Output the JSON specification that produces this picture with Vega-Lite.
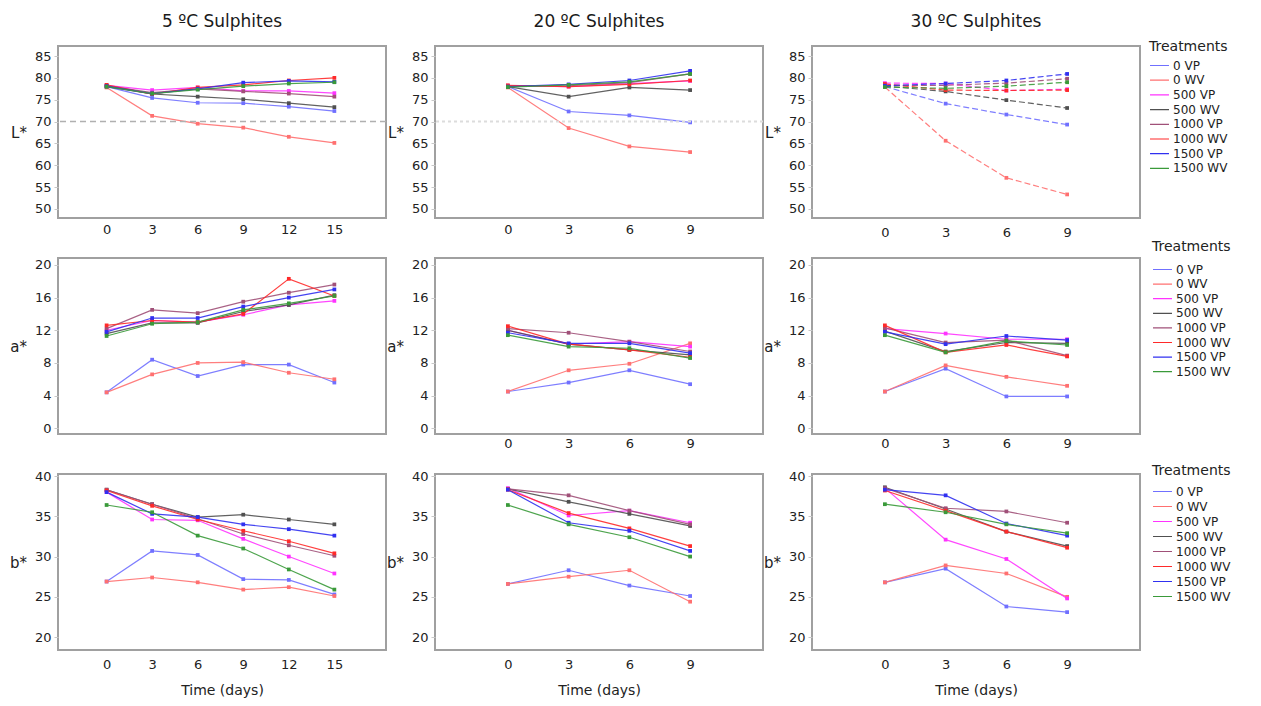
{
"$schema": "https://vega.github.io/schema/vega-lite/v6.json",
"padding": {"left": 8, "top": 12, "right": 5, "bottom": 5},
"background": "white",
"datasets": {"d": [
{"c":5,"m":"L","s":"0 VP","t":0,"v":78.0},{"c":5,"m":"L","s":"0 VP","t":3,"v":75.4},{"c":5,"m":"L","s":"0 VP","t":6,"v":74.3},{"c":5,"m":"L","s":"0 VP","t":9,"v":74.2},{"c":5,"m":"L","s":"0 VP","t":12,"v":73.4},{"c":5,"m":"L","s":"0 VP","t":15,"v":72.4},
{"c":5,"m":"L","s":"0 WV","t":0,"v":77.8},{"c":5,"m":"L","s":"0 WV","t":3,"v":71.3},{"c":5,"m":"L","s":"0 WV","t":6,"v":69.5},{"c":5,"m":"L","s":"0 WV","t":9,"v":68.6},{"c":5,"m":"L","s":"0 WV","t":12,"v":66.5},{"c":5,"m":"L","s":"0 WV","t":15,"v":65.1},
{"c":5,"m":"L","s":"500 VP","t":0,"v":78.3},{"c":5,"m":"L","s":"500 VP","t":3,"v":77.2},{"c":5,"m":"L","s":"500 VP","t":6,"v":77.8},{"c":5,"m":"L","s":"500 VP","t":9,"v":77.0},{"c":5,"m":"L","s":"500 VP","t":12,"v":77.0},{"c":5,"m":"L","s":"500 VP","t":15,"v":76.5},
{"c":5,"m":"L","s":"500 WV","t":0,"v":78.0},{"c":5,"m":"L","s":"500 WV","t":3,"v":76.3},{"c":5,"m":"L","s":"500 WV","t":6,"v":75.7},{"c":5,"m":"L","s":"500 WV","t":9,"v":75.1},{"c":5,"m":"L","s":"500 WV","t":12,"v":74.2},{"c":5,"m":"L","s":"500 WV","t":15,"v":73.3},
{"c":5,"m":"L","s":"1000 VP","t":0,"v":78.2},{"c":5,"m":"L","s":"1000 VP","t":3,"v":76.6},{"c":5,"m":"L","s":"1000 VP","t":6,"v":77.5},{"c":5,"m":"L","s":"1000 VP","t":9,"v":76.9},{"c":5,"m":"L","s":"1000 VP","t":12,"v":76.4},{"c":5,"m":"L","s":"1000 VP","t":15,"v":75.7},
{"c":5,"m":"L","s":"1000 WV","t":0,"v":78.4},{"c":5,"m":"L","s":"1000 WV","t":3,"v":76.3},{"c":5,"m":"L","s":"1000 WV","t":6,"v":77.8},{"c":5,"m":"L","s":"1000 WV","t":9,"v":78.4},{"c":5,"m":"L","s":"1000 WV","t":12,"v":79.4},{"c":5,"m":"L","s":"1000 WV","t":15,"v":80.0},
{"c":5,"m":"L","s":"1500 VP","t":0,"v":78.1},{"c":5,"m":"L","s":"1500 VP","t":3,"v":76.4},{"c":5,"m":"L","s":"1500 VP","t":6,"v":77.5},{"c":5,"m":"L","s":"1500 VP","t":9,"v":78.9},{"c":5,"m":"L","s":"1500 VP","t":12,"v":79.3},{"c":5,"m":"L","s":"1500 VP","t":15,"v":79.1},
{"c":5,"m":"L","s":"1500 WV","t":0,"v":78.0},{"c":5,"m":"L","s":"1500 WV","t":3,"v":76.4},{"c":5,"m":"L","s":"1500 WV","t":6,"v":77.3},{"c":5,"m":"L","s":"1500 WV","t":9,"v":78.1},{"c":5,"m":"L","s":"1500 WV","t":12,"v":78.7},{"c":5,"m":"L","s":"1500 WV","t":15,"v":79.0},

{"c":20,"m":"L","s":"0 VP","t":0,"v":78.0},{"c":20,"m":"L","s":"0 VP","t":3,"v":72.3},{"c":20,"m":"L","s":"0 VP","t":6,"v":71.4},{"c":20,"m":"L","s":"0 VP","t":9,"v":69.8},
{"c":20,"m":"L","s":"0 WV","t":0,"v":77.8},{"c":20,"m":"L","s":"0 WV","t":3,"v":68.5},{"c":20,"m":"L","s":"0 WV","t":6,"v":64.3},{"c":20,"m":"L","s":"0 WV","t":9,"v":63.0},
{"c":20,"m":"L","s":"500 VP","t":0,"v":78.2},{"c":20,"m":"L","s":"500 VP","t":3,"v":78.0},{"c":20,"m":"L","s":"500 VP","t":6,"v":78.7},{"c":20,"m":"L","s":"500 VP","t":9,"v":79.3},
{"c":20,"m":"L","s":"500 WV","t":0,"v":78.0},{"c":20,"m":"L","s":"500 WV","t":3,"v":75.7},{"c":20,"m":"L","s":"500 WV","t":6,"v":77.8},{"c":20,"m":"L","s":"500 WV","t":9,"v":77.2},
{"c":20,"m":"L","s":"1000 VP","t":0,"v":78.1},{"c":20,"m":"L","s":"1000 VP","t":3,"v":78.2},{"c":20,"m":"L","s":"1000 VP","t":6,"v":78.9},{"c":20,"m":"L","s":"1000 VP","t":9,"v":80.9},
{"c":20,"m":"L","s":"1000 WV","t":0,"v":78.3},{"c":20,"m":"L","s":"1000 WV","t":3,"v":78.0},{"c":20,"m":"L","s":"1000 WV","t":6,"v":78.5},{"c":20,"m":"L","s":"1000 WV","t":9,"v":79.4},
{"c":20,"m":"L","s":"1500 VP","t":0,"v":78.0},{"c":20,"m":"L","s":"1500 VP","t":3,"v":78.5},{"c":20,"m":"L","s":"1500 VP","t":6,"v":79.4},{"c":20,"m":"L","s":"1500 VP","t":9,"v":81.6},
{"c":20,"m":"L","s":"1500 WV","t":0,"v":77.9},{"c":20,"m":"L","s":"1500 WV","t":3,"v":78.4},{"c":20,"m":"L","s":"1500 WV","t":6,"v":79.1},{"c":20,"m":"L","s":"1500 WV","t":9,"v":80.9},

{"c":30,"m":"L","s":"0 VP","t":0,"v":78.0},{"c":30,"m":"L","s":"0 VP","t":3,"v":74.1},{"c":30,"m":"L","s":"0 VP","t":6,"v":71.6},{"c":30,"m":"L","s":"0 VP","t":9,"v":69.3},
{"c":30,"m":"L","s":"0 WV","t":0,"v":77.9},{"c":30,"m":"L","s":"0 WV","t":3,"v":65.6},{"c":30,"m":"L","s":"0 WV","t":6,"v":57.1},{"c":30,"m":"L","s":"0 WV","t":9,"v":53.3},
{"c":30,"m":"L","s":"500 VP","t":0,"v":78.8},{"c":30,"m":"L","s":"500 VP","t":3,"v":78.7},{"c":30,"m":"L","s":"500 VP","t":6,"v":77.1},{"c":30,"m":"L","s":"500 VP","t":9,"v":77.4},
{"c":30,"m":"L","s":"500 WV","t":0,"v":78.1},{"c":30,"m":"L","s":"500 WV","t":3,"v":76.9},{"c":30,"m":"L","s":"500 WV","t":6,"v":74.9},{"c":30,"m":"L","s":"500 WV","t":9,"v":73.1},
{"c":30,"m":"L","s":"1000 VP","t":0,"v":78.3},{"c":30,"m":"L","s":"1000 VP","t":3,"v":78.3},{"c":30,"m":"L","s":"1000 VP","t":6,"v":78.8},{"c":30,"m":"L","s":"1000 VP","t":9,"v":79.8},
{"c":30,"m":"L","s":"1000 WV","t":0,"v":78.6},{"c":30,"m":"L","s":"1000 WV","t":3,"v":77.2},{"c":30,"m":"L","s":"1000 WV","t":6,"v":77.1},{"c":30,"m":"L","s":"1000 WV","t":9,"v":77.2},
{"c":30,"m":"L","s":"1500 VP","t":0,"v":78.2},{"c":30,"m":"L","s":"1500 VP","t":3,"v":78.7},{"c":30,"m":"L","s":"1500 VP","t":6,"v":79.4},{"c":30,"m":"L","s":"1500 VP","t":9,"v":80.9},
{"c":30,"m":"L","s":"1500 WV","t":0,"v":77.9},{"c":30,"m":"L","s":"1500 WV","t":3,"v":77.6},{"c":30,"m":"L","s":"1500 WV","t":6,"v":78.1},{"c":30,"m":"L","s":"1500 WV","t":9,"v":79.0},

{"c":5,"m":"a","s":"0 VP","t":0,"v":4.4},{"c":5,"m":"a","s":"0 VP","t":3,"v":8.4},{"c":5,"m":"a","s":"0 VP","t":6,"v":6.4},{"c":5,"m":"a","s":"0 VP","t":9,"v":7.8},{"c":5,"m":"a","s":"0 VP","t":12,"v":7.8},{"c":5,"m":"a","s":"0 VP","t":15,"v":5.6},
{"c":5,"m":"a","s":"0 WV","t":0,"v":4.4},{"c":5,"m":"a","s":"0 WV","t":3,"v":6.6},{"c":5,"m":"a","s":"0 WV","t":6,"v":8.0},{"c":5,"m":"a","s":"0 WV","t":9,"v":8.1},{"c":5,"m":"a","s":"0 WV","t":12,"v":6.8},{"c":5,"m":"a","s":"0 WV","t":15,"v":6.0},
{"c":5,"m":"a","s":"500 VP","t":0,"v":12.0},{"c":5,"m":"a","s":"500 VP","t":3,"v":13.2},{"c":5,"m":"a","s":"500 VP","t":6,"v":13.0},{"c":5,"m":"a","s":"500 VP","t":9,"v":13.9},{"c":5,"m":"a","s":"500 VP","t":12,"v":15.1},{"c":5,"m":"a","s":"500 VP","t":15,"v":15.6},
{"c":5,"m":"a","s":"500 WV","t":0,"v":11.6},{"c":5,"m":"a","s":"500 WV","t":3,"v":12.9},{"c":5,"m":"a","s":"500 WV","t":6,"v":12.9},{"c":5,"m":"a","s":"500 WV","t":9,"v":14.3},{"c":5,"m":"a","s":"500 WV","t":12,"v":15.1},{"c":5,"m":"a","s":"500 WV","t":15,"v":16.3},
{"c":5,"m":"a","s":"1000 VP","t":0,"v":12.2},{"c":5,"m":"a","s":"1000 VP","t":3,"v":14.5},{"c":5,"m":"a","s":"1000 VP","t":6,"v":14.1},{"c":5,"m":"a","s":"1000 VP","t":9,"v":15.5},{"c":5,"m":"a","s":"1000 VP","t":12,"v":16.6},{"c":5,"m":"a","s":"1000 VP","t":15,"v":17.6},
{"c":5,"m":"a","s":"1000 WV","t":0,"v":12.6},{"c":5,"m":"a","s":"1000 WV","t":3,"v":13.2},{"c":5,"m":"a","s":"1000 WV","t":6,"v":13.0},{"c":5,"m":"a","s":"1000 WV","t":9,"v":14.0},{"c":5,"m":"a","s":"1000 WV","t":12,"v":18.3},{"c":5,"m":"a","s":"1000 WV","t":15,"v":16.2},
{"c":5,"m":"a","s":"1500 VP","t":0,"v":11.8},{"c":5,"m":"a","s":"1500 VP","t":3,"v":13.5},{"c":5,"m":"a","s":"1500 VP","t":6,"v":13.5},{"c":5,"m":"a","s":"1500 VP","t":9,"v":14.9},{"c":5,"m":"a","s":"1500 VP","t":12,"v":16.0},{"c":5,"m":"a","s":"1500 VP","t":15,"v":17.0},
{"c":5,"m":"a","s":"1500 WV","t":0,"v":11.3},{"c":5,"m":"a","s":"1500 WV","t":3,"v":12.8},{"c":5,"m":"a","s":"1500 WV","t":6,"v":13.0},{"c":5,"m":"a","s":"1500 WV","t":9,"v":14.5},{"c":5,"m":"a","s":"1500 WV","t":12,"v":15.3},{"c":5,"m":"a","s":"1500 WV","t":15,"v":16.2},

{"c":20,"m":"a","s":"0 VP","t":0,"v":4.5},{"c":20,"m":"a","s":"0 VP","t":3,"v":5.6},{"c":20,"m":"a","s":"0 VP","t":6,"v":7.1},{"c":20,"m":"a","s":"0 VP","t":9,"v":5.4},
{"c":20,"m":"a","s":"0 WV","t":0,"v":4.5},{"c":20,"m":"a","s":"0 WV","t":3,"v":7.1},{"c":20,"m":"a","s":"0 WV","t":6,"v":7.9},{"c":20,"m":"a","s":"0 WV","t":9,"v":10.4},
{"c":20,"m":"a","s":"500 VP","t":0,"v":12.0},{"c":20,"m":"a","s":"500 VP","t":3,"v":10.3},{"c":20,"m":"a","s":"500 VP","t":6,"v":10.6},{"c":20,"m":"a","s":"500 VP","t":9,"v":10.0},
{"c":20,"m":"a","s":"500 WV","t":0,"v":12.0},{"c":20,"m":"a","s":"500 WV","t":3,"v":10.3},{"c":20,"m":"a","s":"500 WV","t":6,"v":9.6},{"c":20,"m":"a","s":"500 WV","t":9,"v":9.0},
{"c":20,"m":"a","s":"1000 VP","t":0,"v":12.2},{"c":20,"m":"a","s":"1000 VP","t":3,"v":11.7},{"c":20,"m":"a","s":"1000 VP","t":6,"v":10.6},{"c":20,"m":"a","s":"1000 VP","t":9,"v":9.4},
{"c":20,"m":"a","s":"1000 WV","t":0,"v":12.5},{"c":20,"m":"a","s":"1000 WV","t":3,"v":10.3},{"c":20,"m":"a","s":"1000 WV","t":6,"v":9.6},{"c":20,"m":"a","s":"1000 WV","t":9,"v":8.7},
{"c":20,"m":"a","s":"1500 VP","t":0,"v":11.7},{"c":20,"m":"a","s":"1500 VP","t":3,"v":10.4},{"c":20,"m":"a","s":"1500 VP","t":6,"v":10.4},{"c":20,"m":"a","s":"1500 VP","t":9,"v":9.2},
{"c":20,"m":"a","s":"1500 WV","t":0,"v":11.4},{"c":20,"m":"a","s":"1500 WV","t":3,"v":10.0},{"c":20,"m":"a","s":"1500 WV","t":6,"v":9.8},{"c":20,"m":"a","s":"1500 WV","t":9,"v":8.6},

{"c":30,"m":"a","s":"0 VP","t":0,"v":4.5},{"c":30,"m":"a","s":"0 VP","t":3,"v":7.3},{"c":30,"m":"a","s":"0 VP","t":6,"v":3.9},{"c":30,"m":"a","s":"0 VP","t":9,"v":3.9},
{"c":30,"m":"a","s":"0 WV","t":0,"v":4.5},{"c":30,"m":"a","s":"0 WV","t":3,"v":7.7},{"c":30,"m":"a","s":"0 WV","t":6,"v":6.3},{"c":30,"m":"a","s":"0 WV","t":9,"v":5.2},
{"c":30,"m":"a","s":"500 VP","t":0,"v":12.2},{"c":30,"m":"a","s":"500 VP","t":3,"v":11.6},{"c":30,"m":"a","s":"500 VP","t":6,"v":10.9},{"c":30,"m":"a","s":"500 VP","t":9,"v":10.9},
{"c":30,"m":"a","s":"500 WV","t":0,"v":11.9},{"c":30,"m":"a","s":"500 WV","t":3,"v":9.4},{"c":30,"m":"a","s":"500 WV","t":6,"v":10.5},{"c":30,"m":"a","s":"500 WV","t":9,"v":10.4},
{"c":30,"m":"a","s":"1000 VP","t":0,"v":12.3},{"c":30,"m":"a","s":"1000 VP","t":3,"v":10.5},{"c":30,"m":"a","s":"1000 VP","t":6,"v":10.8},{"c":30,"m":"a","s":"1000 VP","t":9,"v":8.9},
{"c":30,"m":"a","s":"1000 WV","t":0,"v":12.6},{"c":30,"m":"a","s":"1000 WV","t":3,"v":9.3},{"c":30,"m":"a","s":"1000 WV","t":6,"v":10.2},{"c":30,"m":"a","s":"1000 WV","t":9,"v":8.8},
{"c":30,"m":"a","s":"1500 VP","t":0,"v":11.8},{"c":30,"m":"a","s":"1500 VP","t":3,"v":10.3},{"c":30,"m":"a","s":"1500 VP","t":6,"v":11.3},{"c":30,"m":"a","s":"1500 VP","t":9,"v":10.8},
{"c":30,"m":"a","s":"1500 WV","t":0,"v":11.4},{"c":30,"m":"a","s":"1500 WV","t":3,"v":9.3},{"c":30,"m":"a","s":"1500 WV","t":6,"v":10.7},{"c":30,"m":"a","s":"1500 WV","t":9,"v":10.2},

{"c":5,"m":"b","s":"0 VP","t":0,"v":26.9},{"c":5,"m":"b","s":"0 VP","t":3,"v":30.7},{"c":5,"m":"b","s":"0 VP","t":6,"v":30.2},{"c":5,"m":"b","s":"0 VP","t":9,"v":27.2},{"c":5,"m":"b","s":"0 VP","t":12,"v":27.1},{"c":5,"m":"b","s":"0 VP","t":15,"v":25.3},
{"c":5,"m":"b","s":"0 WV","t":0,"v":26.9},{"c":5,"m":"b","s":"0 WV","t":3,"v":27.4},{"c":5,"m":"b","s":"0 WV","t":6,"v":26.8},{"c":5,"m":"b","s":"0 WV","t":9,"v":25.9},{"c":5,"m":"b","s":"0 WV","t":12,"v":26.2},{"c":5,"m":"b","s":"0 WV","t":15,"v":25.1},
{"c":5,"m":"b","s":"500 VP","t":0,"v":38.0},{"c":5,"m":"b","s":"500 VP","t":3,"v":34.6},{"c":5,"m":"b","s":"500 VP","t":6,"v":34.5},{"c":5,"m":"b","s":"500 VP","t":9,"v":32.2},{"c":5,"m":"b","s":"500 VP","t":12,"v":30.0},{"c":5,"m":"b","s":"500 VP","t":15,"v":27.9},
{"c":5,"m":"b","s":"500 WV","t":0,"v":38.3},{"c":5,"m":"b","s":"500 WV","t":3,"v":36.5},{"c":5,"m":"b","s":"500 WV","t":6,"v":34.9},{"c":5,"m":"b","s":"500 WV","t":9,"v":35.2},{"c":5,"m":"b","s":"500 WV","t":12,"v":34.6},{"c":5,"m":"b","s":"500 WV","t":15,"v":34.0},
{"c":5,"m":"b","s":"1000 VP","t":0,"v":38.3},{"c":5,"m":"b","s":"1000 VP","t":3,"v":36.5},{"c":5,"m":"b","s":"1000 VP","t":6,"v":34.7},{"c":5,"m":"b","s":"1000 VP","t":9,"v":32.8},{"c":5,"m":"b","s":"1000 VP","t":12,"v":31.4},{"c":5,"m":"b","s":"1000 VP","t":15,"v":30.1},
{"c":5,"m":"b","s":"1000 WV","t":0,"v":38.2},{"c":5,"m":"b","s":"1000 WV","t":3,"v":36.3},{"c":5,"m":"b","s":"1000 WV","t":6,"v":34.6},{"c":5,"m":"b","s":"1000 WV","t":9,"v":33.2},{"c":5,"m":"b","s":"1000 WV","t":12,"v":31.9},{"c":5,"m":"b","s":"1000 WV","t":15,"v":30.4},
{"c":5,"m":"b","s":"1500 VP","t":0,"v":38.0},{"c":5,"m":"b","s":"1500 VP","t":3,"v":35.3},{"c":5,"m":"b","s":"1500 VP","t":6,"v":34.9},{"c":5,"m":"b","s":"1500 VP","t":9,"v":34.0},{"c":5,"m":"b","s":"1500 VP","t":12,"v":33.4},{"c":5,"m":"b","s":"1500 VP","t":15,"v":32.6},
{"c":5,"m":"b","s":"1500 WV","t":0,"v":36.4},{"c":5,"m":"b","s":"1500 WV","t":3,"v":35.5},{"c":5,"m":"b","s":"1500 WV","t":6,"v":32.6},{"c":5,"m":"b","s":"1500 WV","t":9,"v":31.0},{"c":5,"m":"b","s":"1500 WV","t":12,"v":28.4},{"c":5,"m":"b","s":"1500 WV","t":15,"v":25.9},

{"c":20,"m":"b","s":"0 VP","t":0,"v":26.6},{"c":20,"m":"b","s":"0 VP","t":3,"v":28.3},{"c":20,"m":"b","s":"0 VP","t":6,"v":26.4},{"c":20,"m":"b","s":"0 VP","t":9,"v":25.1},
{"c":20,"m":"b","s":"0 WV","t":0,"v":26.6},{"c":20,"m":"b","s":"0 WV","t":3,"v":27.5},{"c":20,"m":"b","s":"0 WV","t":6,"v":28.3},{"c":20,"m":"b","s":"0 WV","t":9,"v":24.4},
{"c":20,"m":"b","s":"500 VP","t":0,"v":38.5},{"c":20,"m":"b","s":"500 VP","t":3,"v":35.1},{"c":20,"m":"b","s":"500 VP","t":6,"v":35.7},{"c":20,"m":"b","s":"500 VP","t":9,"v":34.2},
{"c":20,"m":"b","s":"500 WV","t":0,"v":38.4},{"c":20,"m":"b","s":"500 WV","t":3,"v":36.8},{"c":20,"m":"b","s":"500 WV","t":6,"v":35.3},{"c":20,"m":"b","s":"500 WV","t":9,"v":33.8},
{"c":20,"m":"b","s":"1000 VP","t":0,"v":38.4},{"c":20,"m":"b","s":"1000 VP","t":3,"v":37.6},{"c":20,"m":"b","s":"1000 VP","t":6,"v":35.7},{"c":20,"m":"b","s":"1000 VP","t":9,"v":34.0},
{"c":20,"m":"b","s":"1000 WV","t":0,"v":38.3},{"c":20,"m":"b","s":"1000 WV","t":3,"v":35.4},{"c":20,"m":"b","s":"1000 WV","t":6,"v":33.5},{"c":20,"m":"b","s":"1000 WV","t":9,"v":31.3},
{"c":20,"m":"b","s":"1500 VP","t":0,"v":38.3},{"c":20,"m":"b","s":"1500 VP","t":3,"v":34.2},{"c":20,"m":"b","s":"1500 VP","t":6,"v":33.2},{"c":20,"m":"b","s":"1500 VP","t":9,"v":30.7},
{"c":20,"m":"b","s":"1500 WV","t":0,"v":36.4},{"c":20,"m":"b","s":"1500 WV","t":3,"v":34.0},{"c":20,"m":"b","s":"1500 WV","t":6,"v":32.4},{"c":20,"m":"b","s":"1500 WV","t":9,"v":30.0},

{"c":30,"m":"b","s":"0 VP","t":0,"v":26.8},{"c":30,"m":"b","s":"0 VP","t":3,"v":28.5},{"c":30,"m":"b","s":"0 VP","t":6,"v":23.8},{"c":30,"m":"b","s":"0 VP","t":9,"v":23.1},
{"c":30,"m":"b","s":"0 WV","t":0,"v":26.8},{"c":30,"m":"b","s":"0 WV","t":3,"v":28.9},{"c":30,"m":"b","s":"0 WV","t":6,"v":27.9},{"c":30,"m":"b","s":"0 WV","t":9,"v":25.0},
{"c":30,"m":"b","s":"500 VP","t":0,"v":38.5},{"c":30,"m":"b","s":"500 VP","t":3,"v":32.1},{"c":30,"m":"b","s":"500 VP","t":6,"v":29.7},{"c":30,"m":"b","s":"500 VP","t":9,"v":24.8},
{"c":30,"m":"b","s":"500 WV","t":0,"v":38.6},{"c":30,"m":"b","s":"500 WV","t":3,"v":35.9},{"c":30,"m":"b","s":"500 WV","t":6,"v":33.1},{"c":30,"m":"b","s":"500 WV","t":9,"v":31.3},
{"c":30,"m":"b","s":"1000 VP","t":0,"v":38.5},{"c":30,"m":"b","s":"1000 VP","t":3,"v":36.0},{"c":30,"m":"b","s":"1000 VP","t":6,"v":35.6},{"c":30,"m":"b","s":"1000 VP","t":9,"v":34.2},
{"c":30,"m":"b","s":"1000 WV","t":0,"v":38.2},{"c":30,"m":"b","s":"1000 WV","t":3,"v":35.7},{"c":30,"m":"b","s":"1000 WV","t":6,"v":33.1},{"c":30,"m":"b","s":"1000 WV","t":9,"v":31.1},
{"c":30,"m":"b","s":"1500 VP","t":0,"v":38.3},{"c":30,"m":"b","s":"1500 VP","t":3,"v":37.6},{"c":30,"m":"b","s":"1500 VP","t":6,"v":34.1},{"c":30,"m":"b","s":"1500 VP","t":9,"v":32.6},
{"c":30,"m":"b","s":"1500 WV","t":0,"v":36.5},{"c":30,"m":"b","s":"1500 WV","t":3,"v":35.5},{"c":30,"m":"b","s":"1500 WV","t":6,"v":34.0},{"c":30,"m":"b","s":"1500 WV","t":9,"v":32.9}
]},
"bounds": "flush",
"align": "each",
"columns": 3,
"spacing": {"row": 40, "column": 49},
"resolve": {"scale": {"color": "independent", "x": "independent", "y": "independent"}, "legend": {"color": "independent"}, "axis": {"x": "independent", "y": "independent"}},
"concat": [
  {"width": 328, "height": 172, "title": "5 ºC Sulphites",
   "layer": [
    {"data": {"name": "d"}, "transform": [{"filter": "datum.c==5 && datum.m=='L'"}],
     "encoding": {
      "x": {"field": "t", "type": "quantitative", "scale": {"domain": [-3.2, 18.4], "nice": false, "zero": false}, "axis": {"values": [0,3,6,9,12,15], "title": null, "labelPadding": 5}},
      "y": {"field": "v", "type": "quantitative", "scale": {"domain": [47.9, 87.3], "nice": false, "zero": false}, "axis": {"values": [50,55,60,65,70,75,80,85], "title": "L*"}},
      "color": {"field": "s", "type": "nominal", "scale": {"domain": ["0 VP","0 WV","500 VP","500 WV","1000 VP","1000 WV","1500 VP","1500 WV"], "range": ["#7070ff","#ff7070","#ff33ff","#505050","#a05078","#ff2a2a","#3030f0","#3a9a3a"]}, "legend": null}},
     "layer": [{"mark": {"type": "line"}}, {"mark": {"type": "point"}}]},
    {"data": {"values": [{"r": 70}]}, "mark": {"type": "rule", "color": "#b0b0b0", "strokeDash": [6, 4], "strokeWidth": 1.5}, "encoding": {"y": {"field": "r", "type": "quantitative", "scale": {"domain": [47.9, 87.3], "nice": false, "zero": false}, "axis": {"values": [50,55,60,65,70,75,80,85], "title": "L*"}}}}
   ]},
  {"width": 328, "height": 172, "title": "20 ºC Sulphites",
   "layer": [
    {"data": {"name": "d"}, "transform": [{"filter": "datum.c==20 && datum.m=='L'"}],
     "encoding": {
      "x": {"field": "t", "type": "quantitative", "scale": {"domain": [-3.6, 12.6], "nice": false, "zero": false}, "axis": {"values": [0,3,6,9], "title": null, "labelPadding": 5}},
      "y": {"field": "v", "type": "quantitative", "scale": {"domain": [47.9, 87.3], "nice": false, "zero": false}, "axis": {"values": [50,55,60,65,70,75,80,85], "title": "L*"}},
      "color": {"field": "s", "type": "nominal", "scale": {"domain": ["0 VP","0 WV","500 VP","500 WV","1000 VP","1000 WV","1500 VP","1500 WV"], "range": ["#7070ff","#ff7070","#ff33ff","#505050","#a05078","#ff2a2a","#3030f0","#3a9a3a"]}, "legend": null}},
     "layer": [{"mark": {"type": "line"}}, {"mark": {"type": "point"}}]},
    {"data": {"values": [{"r": 70}]}, "mark": {"type": "rule", "color": "#dcdcdc", "strokeDash": [3, 3], "strokeWidth": 2}, "encoding": {"y": {"field": "r", "type": "quantitative", "scale": {"domain": [47.9, 87.3], "nice": false, "zero": false}, "axis": {"values": [50,55,60,65,70,75,80,85], "title": "L*"}}}}
   ]},
  {"width": 328, "height": 172, "title": {"text": "30 ºC Sulphites", "offset": 9},
   "data": {"name": "d"}, "transform": [{"filter": "datum.c==30 && datum.m=='L'"}],
   "encoding": {
    "x": {"field": "t", "type": "quantitative", "scale": {"domain": [-3.6, 12.6], "nice": false, "zero": false}, "axis": {"values": [0,3,6,9], "title": null, "labelPadding": 8}},
    "y": {"field": "v", "type": "quantitative", "scale": {"domain": [47.9, 87.3], "nice": false, "zero": false}, "axis": {"values": [50,55,60,65,70,75,80,85], "title": "L*"}},
    "color": {"field": "s", "type": "nominal", "scale": {"domain": ["0 VP","0 WV","500 VP","500 WV","1000 VP","1000 WV","1500 VP","1500 WV"], "range": ["#7070ff","#ff7070","#ff33ff","#505050","#a05078","#ff2a2a","#3030f0","#3a9a3a"]},
     "legend": {"orient": "none", "legendX": 337, "legendY": -6, "title": "Treatments", "titlePadding": 5, "rowPadding": 1.7}}},
   "layer": [{"mark": {"type": "line", "strokeDash": [6, 3]}}, {"mark": {"type": "point"}}]},
   {"width": 328, "height": 176,
    "data": {"name": "d"}, "transform": [{"filter": "datum.c==5 && datum.m=='a'"}],
    "encoding": {
     "x": {"field": "t", "type": "quantitative", "scale": {"domain": [-3.2, 18.4], "nice": false, "zero": false}, "axis": null},
     "y": {"field": "v", "type": "quantitative", "scale": {"domain": [-0.7, 20.85], "nice": false, "zero": false}, "axis": {"values": [0,4,8,12,16,20], "title": "a*"}},
     "color": {"field": "s", "type": "nominal", "scale": {"domain": ["0 VP","0 WV","500 VP","500 WV","1000 VP","1000 WV","1500 VP","1500 WV"], "range": ["#7070ff","#ff7070","#ff33ff","#505050","#a05078","#ff2a2a","#3030f0","#3a9a3a"]}, "legend": null}},
    "layer": [{"mark": {"type": "line"}}, {"mark": {"type": "point"}}]},
   {"width": 328, "height": 176,
    "data": {"name": "d"}, "transform": [{"filter": "datum.c==20 && datum.m=='a'"}],
    "encoding": {
     "x": {"field": "t", "type": "quantitative", "scale": {"domain": [-3.6, 12.6], "nice": false, "zero": false}, "axis": {"values": [0,3,6,9], "title": null, "labelPadding": 3}},
     "y": {"field": "v", "type": "quantitative", "scale": {"domain": [-0.7, 20.85], "nice": false, "zero": false}, "axis": {"values": [0,4,8,12,16,20], "title": "a*"}},
     "color": {"field": "s", "type": "nominal", "scale": {"domain": ["0 VP","0 WV","500 VP","500 WV","1000 VP","1000 WV","1500 VP","1500 WV"], "range": ["#7070ff","#ff7070","#ff33ff","#505050","#a05078","#ff2a2a","#3030f0","#3a9a3a"]}, "legend": null}},
    "layer": [{"mark": {"type": "line"}}, {"mark": {"type": "point"}}]},
   {"width": 328, "height": 176,
    "data": {"name": "d"}, "transform": [{"filter": "datum.c==30 && datum.m=='a'"}],
    "encoding": {
     "x": {"field": "t", "type": "quantitative", "scale": {"domain": [-3.6, 12.6], "nice": false, "zero": false}, "axis": {"values": [0,3,6,9], "title": null, "labelPadding": 3}},
     "y": {"field": "v", "type": "quantitative", "scale": {"domain": [-0.7, 20.85], "nice": false, "zero": false}, "axis": {"values": [0,4,8,12,16,20], "title": "a*"}},
     "color": {"field": "s", "type": "nominal", "scale": {"domain": ["0 VP","0 WV","500 VP","500 WV","1000 VP","1000 WV","1500 VP","1500 WV"], "range": ["#7070ff","#ff7070","#ff33ff","#505050","#a05078","#ff2a2a","#3030f0","#3a9a3a"]},
      "legend": {"orient": "none", "legendX": 340, "legendY": -18, "title": "Treatments", "titlePadding": 9, "rowPadding": 1.6}}},
    "layer": [{"mark": {"type": "line"}}, {"mark": {"type": "point"}}]},
   {"width": 328, "height": 176,
    "data": {"name": "d"}, "transform": [{"filter": "datum.c==5 && datum.m=='b'"}],
    "encoding": {
     "x": {"field": "t", "type": "quantitative", "scale": {"domain": [-3.2, 18.4], "nice": false, "zero": false}, "axis": {"values": [0,3,6,9,12,15], "title": "Time (days)", "labelPadding": 8}},
     "y": {"field": "v", "type": "quantitative", "scale": {"domain": [18.4, 40.25], "nice": false, "zero": false}, "axis": {"values": [20,25,30,35,40], "title": "b*"}},
     "color": {"field": "s", "type": "nominal", "scale": {"domain": ["0 VP","0 WV","500 VP","500 WV","1000 VP","1000 WV","1500 VP","1500 WV"], "range": ["#7070ff","#ff7070","#ff33ff","#505050","#a05078","#ff2a2a","#3030f0","#3a9a3a"]}, "legend": null}},
    "layer": [{"mark": {"type": "line"}}, {"mark": {"type": "point"}}]},
   {"width": 328, "height": 176,
    "data": {"name": "d"}, "transform": [{"filter": "datum.c==20 && datum.m=='b'"}],
    "encoding": {
     "x": {"field": "t", "type": "quantitative", "scale": {"domain": [-3.6, 12.6], "nice": false, "zero": false}, "axis": {"values": [0,3,6,9], "title": "Time (days)", "labelPadding": 8}},
     "y": {"field": "v", "type": "quantitative", "scale": {"domain": [18.4, 40.25], "nice": false, "zero": false}, "axis": {"values": [20,25,30,35,40], "title": "b*"}},
     "color": {"field": "s", "type": "nominal", "scale": {"domain": ["0 VP","0 WV","500 VP","500 WV","1000 VP","1000 WV","1500 VP","1500 WV"], "range": ["#7070ff","#ff7070","#ff33ff","#505050","#a05078","#ff2a2a","#3030f0","#3a9a3a"]}, "legend": null}},
    "layer": [{"mark": {"type": "line"}}, {"mark": {"type": "point"}}]},
   {"width": 328, "height": 176,
    "data": {"name": "d"}, "transform": [{"filter": "datum.c==30 && datum.m=='b'"}],
    "encoding": {
     "x": {"field": "t", "type": "quantitative", "scale": {"domain": [-3.6, 12.6], "nice": false, "zero": false}, "axis": {"values": [0,3,6,9], "title": "Time (days)", "labelPadding": 8}},
     "y": {"field": "v", "type": "quantitative", "scale": {"domain": [18.4, 40.25], "nice": false, "zero": false}, "axis": {"values": [20,25,30,35,40], "title": "b*"}},
     "color": {"field": "s", "type": "nominal", "scale": {"domain": ["0 VP","0 WV","500 VP","500 WV","1000 VP","1000 WV","1500 VP","1500 WV"], "range": ["#7070ff","#ff7070","#ff33ff","#505050","#a05078","#ff2a2a","#3030f0","#3a9a3a"]},
      "legend": {"orient": "none", "legendX": 340, "legendY": -10, "title": "Treatments", "titlePadding": 7, "rowPadding": 2}}},
    "layer": [{"mark": {"type": "line"}}, {"mark": {"type": "point"}}]}
],
"config": {
 "font": "DejaVu Sans",
 "view": {"stroke": "#a0a0a0", "strokeWidth": 2},
 "axis": {"grid": false, "domain": false, "labelFontSize": 13, "labelColor": "#222222", "titleFontSize": 15, "titleFontWeight": "normal", "titleColor": "#222222", "tickColor": "#c8c8c8", "tickSize": 4},
 "axisY": {"titleAngle": 0, "titleAlign": "right", "titleBaseline": "middle", "titlePadding": 8, "labelPadding": 3},
 "axisX": {"ticks": false, "titleFontSize": 14, "titlePadding": 12},
 "title": {"fontSize": 17, "fontWeight": "normal", "color": "#1a1a1a", "offset": 15, "frame": "group"},
 "legend": {"titleFontSize": 14, "titleFontWeight": "normal", "titleColor": "#222222", "labelFontSize": 12, "labelColor": "#222222", "symbolType": "stroke", "symbolSize": 360, "symbolStrokeWidth": 1.5, "clipHeight": 13, "labelOffset": 3, "padding": 0},
 "line": {"strokeWidth": 1.2, "opacity": 0.9},
 "point": {"shape": "square", "filled": true, "size": 14, "opacity": 1}
}
}
